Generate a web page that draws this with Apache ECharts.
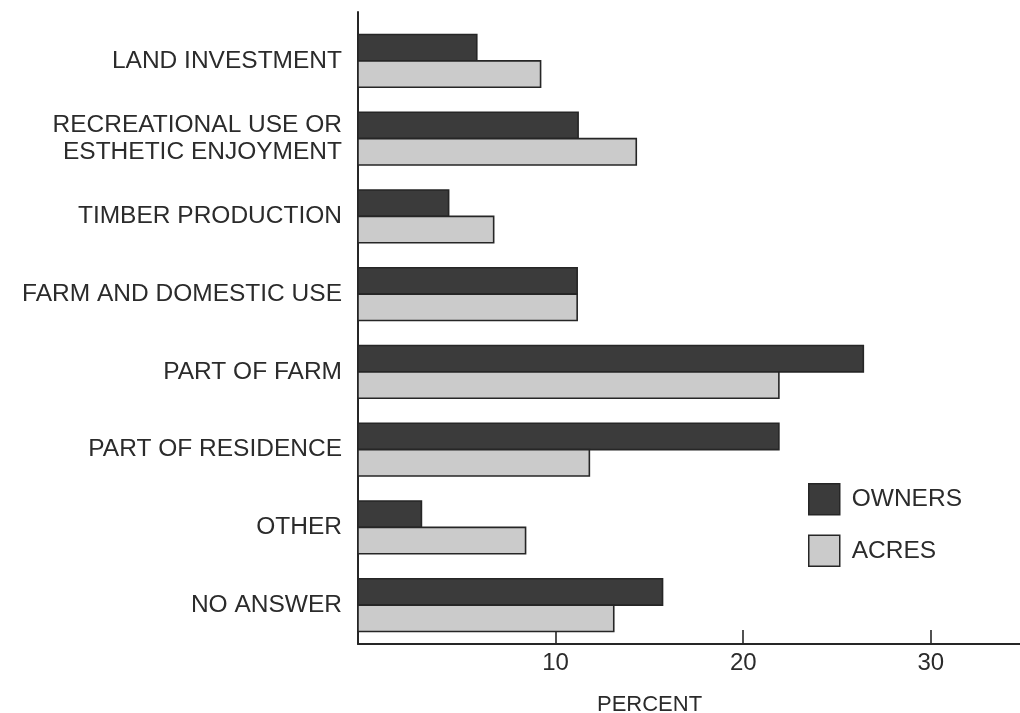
<!DOCTYPE html>
<html>
<head>
<meta charset="utf-8">
<script src="https://cdn.jsdelivr.net/npm/echarts@6/dist/echarts.min.js"></script>
<style>
html,body{margin:0;padding:0;background:#fff;}
#chart{width:1020px;height:713px;}
</style>
</head>
<body>
<div id="chart"></div>
<script>
const categories = [
  'LAND INVESTMENT',
  'RECREATIONAL USE OR\nESTHETIC ENJOYMENT',
  'TIMBER PRODUCTION',
  'FARM AND DOMESTIC USE',
  'PART OF FARM',
  'PART OF RESIDENCE',
  'OTHER',
  'NO ANSWER'
];
const owners = [5.8, 11.2, 4.3, 11.15, 26.4, 21.9, 2.85, 15.7];
const acres  = [9.2, 14.3, 6.7, 11.15, 21.9, 11.8, 8.4, 13.1];
const tickValues = [10, 20, 30];
const X_MIN = -0.53;
const X_MAX = 34.75;

const FONT = "'Liberation Sans', Arial, Helvetica, sans-serif";
const TXT = '#2b2b2b';
const OWN_FILL = '#3b3b3b';
const ACR_FILL = '#cbcbcb';
const EDGE = '#262626';

function makeRender(side, fill) {
  return function (params, api) {
    const v = api.value(0);
    const ci = api.value(1);
    const base = api.coord([X_MIN, ci]);
    const end = api.coord([v, ci]);
    const band = api.size([0, 1])[1];
    const h = band * 0.34;
    const y = side === 0 ? base[1] - h : base[1];
    return {
      type: 'rect',
      shape: { x: base[0], y: y, width: end[0] - base[0], height: h },
      style: { fill: fill, stroke: EDGE, lineWidth: 1.6 }
    };
  };
}

const chart = echarts.init(document.getElementById('chart'), null, { renderer: 'canvas' });
chart.setOption({
  backgroundColor: '#fff',
  animation: false,
  textStyle: { fontFamily: FONT, color: TXT },
  title: {
    text: 'PERCENT',
    left: 597,
    top: 694,
    padding: 0,
    textStyle: { fontFamily: FONT, fontSize: 22, fontWeight: 'normal', color: TXT }
  },
  legend: {
    orient: 'vertical',
    left: 808,
    top: 483,
    padding: 0,
    itemWidth: 31,
    itemHeight: 31,
    itemGap: 19,
    textStyle: { fontFamily: FONT, fontSize: 24.5, color: TXT, padding: [0, 0, 0, 7] },
    data: [
      { name: 'OWNERS', icon: 'rect', itemStyle: { color: OWN_FILL, borderColor: EDGE, borderWidth: 1.5 } },
      { name: 'ACRES', icon: 'rect', itemStyle: { color: ACR_FILL, borderColor: EDGE, borderWidth: 1.5 } }
    ]
  },
  grid: [
    { left: 358, right: 0, top: 22, bottom: 69, containLabel: false },
    { left: 358, right: 0, top: 12, bottom: 69, containLabel: false }
  ],
  xAxis: [
    {
      type: 'value', gridIndex: 0, min: X_MIN, max: X_MAX,
      axisLine: { show: true, lineStyle: { color: EDGE, width: 2 } },
      axisTick: { show: true, inside: true, length: 14, customValues: tickValues, lineStyle: { color: EDGE, width: 1.6 } },
      axisLabel: { show: true, customValues: tickValues, margin: 7, fontFamily: FONT, fontSize: 24, color: TXT },
      splitLine: { show: false }
    },
    {
      type: 'value', gridIndex: 1, min: X_MIN, max: X_MAX, show: false
    }
  ],
  yAxis: [
    {
      type: 'category', gridIndex: 0, inverse: true, data: categories,
      axisLine: { show: false },
      axisTick: { show: false },
      axisLabel: { margin: 16, fontFamily: FONT, fontSize: 24.5, lineHeight: 27, color: TXT, align: 'right' }
    },
    {
      type: 'value', gridIndex: 1, min: 0, max: 1,
      axisLine: { show: true, onZero: false, lineStyle: { color: EDGE, width: 2 } },
      axisTick: { show: false },
      axisLabel: { show: false },
      splitLine: { show: false }
    }
  ],
  series: [
    {
      name: 'OWNERS', type: 'custom', xAxisIndex: 0, yAxisIndex: 0,
      itemStyle: { color: OWN_FILL },
      encode: { x: 0, y: 1 },
      renderItem: makeRender(0, OWN_FILL),
      data: owners.map((v, i) => [v, i])
    },
    {
      name: 'ACRES', type: 'custom', xAxisIndex: 0, yAxisIndex: 0,
      itemStyle: { color: ACR_FILL },
      encode: { x: 0, y: 1 },
      renderItem: makeRender(1, ACR_FILL),
      data: acres.map((v, i) => [v, i])
    }
  ]
});
</script>
</body>
</html>
